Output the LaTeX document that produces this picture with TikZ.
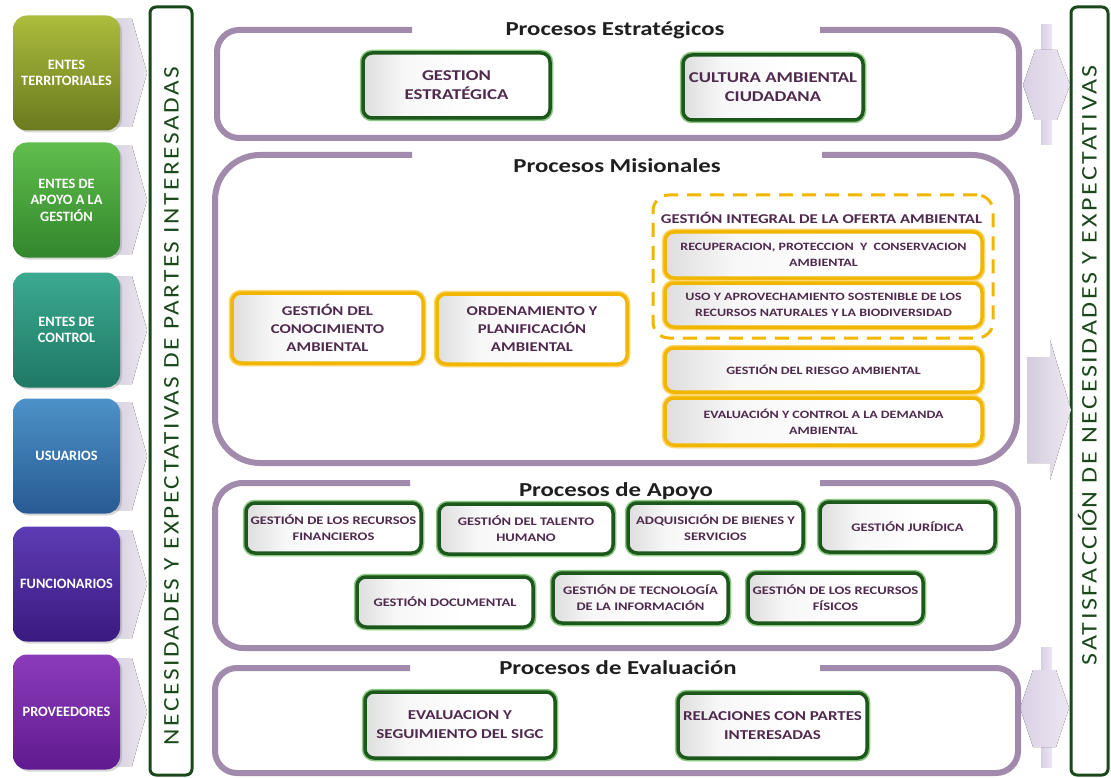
\documentclass[tikz,border=0pt]{standalone}
\usepackage{graphicx}
\usepackage{fontspec}
\setmainfont{Carlito}[FakeStretch=1.25]
\newfontfamily\plainfont{Carlito}
\newfontfamily\spacedfont{Carlito}[LetterSpace=10]
\usetikzlibrary{shadows}
\definecolor{framepurple}{RGB}{162,138,172}
\definecolor{txtpurple}{RGB}{80,42,78}
\definecolor{dkgreen}{RGB}{28,88,28}
\definecolor{glowgreen}{RGB}{140,200,130}
\definecolor{gold}{RGB}{242,182,0}
\definecolor{goldglow}{RGB}{250,214,110}
\definecolor{arrowgray}{RGB}{212,204,222}
\definecolor{arrowlight}{RGB}{236,232,240}
\definecolor{lav}{RGB}{218,208,228}
\definecolor{lavlight}{RGB}{236,230,242}
\definecolor{vgreen}{RGB}{26,72,26}
\pgfdeclarehorizontalshading{boxshade}{100bp}{color(0bp)=(black!13); color(25bp)=(black!13); color(36bp)=(black!3); color(55bp)=(white); color(100bp)=(white)}
\begin{document}
\begin{tikzpicture}[x=1pt,y=-1pt,
  frame/.style={draw=framepurple, line width=6pt, line cap=butt},
  title/.style={anchor=base, font=\fontsize{19.8}{22}\selectfont\bfseries, text=black!88, inner sep=0pt},
  procbox/.style={rounded corners=9pt, line width=3.5pt, shading=boxshade,
     text=txtpurple, align=center, inner xsep=1pt, inner ysep=2pt,
     drop shadow={opacity=0.3, shadow xshift=2pt, shadow yshift=-3pt}},
  greenbox/.style={procbox, draw=dkgreen, preaction={draw=glowgreen, line width=6.5pt}},
  yellowbox/.style={procbox, draw=gold, preaction={draw=goldglow, line width=6.5pt}},
  stakeholder/.style={rounded corners=14pt, draw=none, minimum width=107pt, minimum height=115pt,
     text=white, align=center, font=\plainfont\fontsize{14.3}{16.5}\selectfont\bfseries,
     drop shadow={opacity=0.3, shadow xshift=2pt, shadow yshift=-2pt}},
  sidebar/.style={draw=vgreen, line width=3pt, rounded corners=6pt, fill=white},
  inarrow/.style={left color=arrowgray, right color=arrowlight, draw=none},
  outarrow/.style={left color=lav, right color=lavlight, draw=none},
  sstrat/.style={font=\fontsize{15}{19}\selectfont\bfseries},
  seval/.style={font=\fontsize{13.6}{19}\selectfont\bfseries},
  smis/.style={font=\fontsize{13.4}{18}\selectfont\bfseries},
  smisr/.style={font=\fontsize{11.2}{16}\selectfont\bfseries},
  sapoyo/.style={font=\fontsize{11.6}{16}\selectfont\bfseries}
]
\useasboundingbox[fill=white] (0,0) rectangle (1111,778);

% incoming arrows behind the stakeholder boxes
\foreach \c in {73,200,330,456,584,712}{
  \fill[inarrow] (108,\c-54) -- (132,\c-54) -- (147,\c) -- (132,\c+54) -- (108,\c+54) -- cycle;
}

% stakeholder boxes
\node[stakeholder, top color={rgb,255:red,172;green,188;blue,60}, bottom color={rgb,255:red,106;green,122;blue,30}] (s1) at (66.5,73) {ENTES\\TERRITORIALES};
\node[stakeholder, top color={rgb,255:red,96;green,190;blue,76}, bottom color={rgb,255:red,50;green,134;blue,44}] (s2) at (66.5,200) {ENTES DE\\APOYO A LA\\GESTIÓN};
\node[stakeholder, top color={rgb,255:red,60;green,170;blue,144}, bottom color={rgb,255:red,30;green,120;blue,100}] (s3) at (66.5,330) {ENTES DE\\CONTROL};
\node[stakeholder, top color={rgb,255:red,76;green,146;blue,200}, bottom color={rgb,255:red,40;green,90;blue,146}] (s4) at (66.5,456) {USUARIOS};
\node[stakeholder, top color={rgb,255:red,94;green,60;blue,180}, bottom color={rgb,255:red,58;green,26;blue,128}] (s5) at (66.5,584) {FUNCIONARIOS};
\node[stakeholder, top color={rgb,255:red,140;green,60;blue,186}, bottom color={rgb,255:red,96;green,26;blue,144}] (s6) at (66.5,712) {PROVEEDORES};

% side bars
\draw[sidebar] (150,7) rectangle (192,775);
\draw[sidebar] (1071,7) rectangle (1108,775);
\node[rotate=90, inner sep=0pt, text=vgreen] (needs) at (171.5,406)
  {\resizebox{678pt}{14.5pt}{\scalebox{1}[1.3]{\spacedfont\fontsize{23}{23}\selectfont NECESIDADES Y EXPECTATIVAS DE PARTES INTERESADAS}}};
\node[rotate=90, inner sep=0pt, text=vgreen] (satis) at (1089.5,365)
  {\resizebox{600pt}{14.5pt}{\scalebox{1}[1.3]{\spacedfont\fontsize{23}{23}\selectfont SATISFACCI\smash{Ó}N DE NECESIDADES Y EXPECTATIVAS}}};

% outgoing arrows on the right
\fill[outarrow] (1041,25) rectangle (1052,145);
\fill[outarrow] (1035,50) -- (1057,50) -- (1070,85) -- (1057,120) -- (1035,120) -- (1023,85) -- cycle;
\fill[inarrow] (1027,357) -- (1050,357) -- (1050,340) -- (1071,410) -- (1050,480) -- (1050,463) -- (1027,463) -- cycle;
\fill[outarrow] (1041,647) rectangle (1052,767);
\fill[outarrow] (1033,670) -- (1056,670) -- (1069,708) -- (1056,747) -- (1033,747) -- (1020,708) -- cycle;

% section frames
\draw[frame, rounded corners=22pt] (412,30) -- (217,30) -- (217,138) -- (1019,138) -- (1019,30) -- (820,30);
\draw[frame, rounded corners=45pt] (412,155) -- (215,155) -- (215,463) -- (1017,463) -- (1017,155) -- (822,155);
\draw[frame, rounded corners=28pt] (410,483) -- (215,483) -- (215,648) -- (1018,648) -- (1018,483) -- (820,483);
\draw[frame, rounded corners=22pt] (410,668) -- (215,668) -- (215,773) -- (1018,773) -- (1018,668) -- (820,668);

% section titles
\node[title] (tE) at (615,36) {Procesos Estratégicos};
\node[title] (tM) at (617,173) {Procesos Misionales};
\node[title] (tA) at (616,496) {Procesos de Apoyo};
\node[title] (tV) at (618,674) {Procesos de Evaluación};

% strategic
\node[greenbox, sstrat, minimum width=187pt, minimum height=65pt] (ge) at (456.5,85.5) {GESTION\\ESTRATÉGICA};
\node[greenbox, sstrat, minimum width=180pt, minimum height=65pt] (ca) at (773,87.5) {CULTURA AMBIENTAL\\CIUDADANA};

% misional
\node[yellowbox, smis, minimum width=191pt, minimum height=70pt] (gca) at (327.5,328) {GESTIÓN DEL\\CONOCIMIENTO\\AMBIENTAL};
\node[yellowbox, smis, minimum width=190pt, minimum height=70pt] (opa) at (532,329) {ORDENAMIENTO Y\\PLANIFICACIÓN\\AMBIENTAL};
\node[draw=gold, line width=3pt, dash pattern=on 14pt off 9pt, rounded corners=16pt,
      minimum width=340pt, minimum height=143pt] (integral) at (823,266.5) {};
\node[anchor=base, inner sep=0pt, text=txtpurple, font=\fontsize{13.4}{16}\selectfont\bfseries] (tI) at (821.5,224) {GESTIÓN INTEGRAL DE LA OFERTA AMBIENTAL};
\node[yellowbox, smisr, minimum width=317pt, minimum height=46pt] (rec) at (823.5,255) {RECUPERACION, PROTECCION \ Y \ CONSERVACION\\AMBIENTAL};
\node[yellowbox, smisr, minimum width=317pt, minimum height=44pt] (uso) at (823.5,305) {USO Y APROVECHAMIENTO SOSTENIBLE DE LOS\\RECURSOS NATURALES Y LA BIODIVERSIDAD};
\node[yellowbox, smisr, minimum width=317pt, minimum height=44pt] (rie) at (823.5,370) {GESTIÓN DEL RIESGO AMBIENTAL};
\node[yellowbox, smisr, minimum width=317pt, minimum height=47pt] (ecd) at (823.5,421.5) {EVALUACIÓN Y CONTROL A LA DEMANDA\\AMBIENTAL};

% apoyo
\node[greenbox, sapoyo, minimum width=175pt, minimum height=50pt] (grf) at (333.5,528) {GESTIÓN DE LOS RECURSOS\\FINANCIEROS};
\node[greenbox, sapoyo, minimum width=174pt, minimum height=50pt] (gth) at (526,529) {GESTIÓN DEL TALENTO\\HUMANO};
\node[greenbox, sapoyo, minimum width=175pt, minimum height=50pt] (abs) at (715.5,528) {ADQUISICIÓN DE BIENES Y\\SERVICIOS};
\node[greenbox, sapoyo, minimum width=175pt, minimum height=50pt] (gj) at (907.5,527) {GESTIÓN JURÍDICA};
\node[greenbox, sapoyo, minimum width=176pt, minimum height=50pt] (gd) at (445,602) {GESTIÓN DOCUMENTAL};
\node[greenbox, sapoyo, minimum width=175pt, minimum height=50pt] (gti) at (640.5,598) {GESTIÓN DE TECNOLOGÍA\\DE LA INFORMACIÓN};
\node[greenbox, sapoyo, minimum width=175pt, minimum height=50pt] (grfi) at (835.5,598) {GESTIÓN DE LOS RECURSOS\\FÍSICOS};

% evaluacion
\node[greenbox, seval, minimum width=190pt, minimum height=66pt] (ess) at (460,725) {EVALUACION Y\\SEGUIMIENTO DEL SIGC};
\node[greenbox, seval, minimum width=189pt, minimum height=65pt] (rpi) at (772.5,725.5) {RELACIONES CON PARTES\\INTERESADAS};
\end{tikzpicture}
\end{document}
